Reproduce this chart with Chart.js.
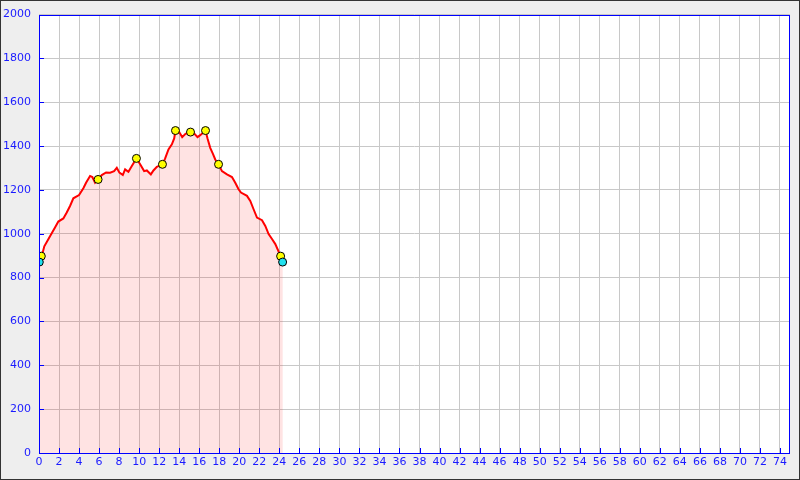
<!DOCTYPE html>
<html>
<head>
<meta charset="utf-8">
<script src="https://cdn.jsdelivr.net/npm/chart.js@4"></script>
<style>
  html, body { margin: 0; padding: 0; background: #eeeeee; }
  #wrap { width: 800px; height: 480px; }
</style>
</head>
<body>
<div id="wrap"><canvas id="profile" width="800" height="480"></canvas></div>
<script>
// distance (km) and elevation (m) along the track
const distKm = [0, 0.23, 0.37, 0.53, 0.93, 1.27, 1.6, 1.93, 2.43, 2.77, 3.1, 3.43, 4.0, 4.43, 4.7, 5.1, 5.33, 5.6, 5.9,
  6.27, 6.7, 7.1, 7.5, 7.77, 8.03, 8.37, 8.6, 8.93, 9.27, 9.73, 10.1, 10.5, 10.77, 11.17, 11.43, 11.77, 12.33,
  12.6, 12.93, 13.27, 13.5, 13.63, 14.0, 14.3, 14.63, 15.13, 15.53, 15.83, 16.1, 16.63, 16.83, 17.1, 17.37, 17.6,
  17.93, 18.27, 18.77, 19.27, 19.6, 19.93, 20.17, 20.77, 21.1, 21.43, 21.77, 22.27, 22.6, 22.93, 23.27, 23.6,
  24.13, 24.35];
const elevM = [872, 898, 915, 943, 975, 1002, 1029, 1056, 1070, 1097, 1127, 1162, 1177, 1208, 1233, 1264, 1259, 1233, 1248,
  1268, 1280, 1279, 1286, 1301, 1279, 1268, 1294, 1283, 1309, 1344, 1317, 1286, 1289, 1271, 1289, 1306, 1317,
  1344, 1385, 1408, 1435, 1471, 1464, 1441, 1456, 1464, 1456, 1441, 1450, 1471, 1435, 1392, 1365, 1339,
  1317, 1286, 1271, 1259, 1233, 1203, 1188, 1173, 1150, 1112, 1074, 1062, 1036, 999, 976, 953,
  898, 872];

// waypoints
const wayX = [0.23, 5.9, 9.73, 12.33, 13.63, 15.13, 16.63, 17.93, 24.13];
const wayY = [898, 1248, 1344, 1317, 1471, 1464, 1471, 1317, 898];

// start / finish
const endX = [0.03, 24.33];
const endY = [871, 871];

const xTicks = [];
for (let v = 0; v <= 74; v += 2) xTicks.push(v);

function toPoints(xs, ys) {
  return xs.map(function (x, i) { return { x: x, y: ys[i] }; });
}

const frame = {
  id: "frame",
  beforeDraw(chart) {
    const c = chart.ctx;
    c.save();
    c.fillStyle = "#eeeeee";
    c.fillRect(0, 0, chart.width, chart.height);
    const a = chart.chartArea;
    c.fillStyle = "#ffffff";
    c.fillRect(a.left, a.top, a.right - a.left, a.bottom - a.top);
    c.restore();
  },
  afterDraw(chart) {
    const c = chart.ctx;
    const a = chart.chartArea;
    const xs = chart.scales.x, ys = chart.scales.y;
    c.save();
    c.strokeStyle = "#0000ff";
    c.lineWidth = 1;
    c.beginPath();
    xTicks.forEach(function (v) {
      const px = Math.round(xs.getPixelForValue(v)) + 0.5;
      c.moveTo(px, a.bottom);
      c.lineTo(px, a.bottom - 5);
    });
    ys.ticks.forEach(function (t) {
      const py = Math.round(ys.getPixelForValue(t.value)) + 0.5;
      c.moveTo(a.left, py);
      c.lineTo(a.left + 5, py);
    });
    c.stroke();
    c.strokeRect(Math.round(a.left) + 0.5, Math.round(a.top) + 0.5,
      Math.round(a.right - a.left) - 1, Math.round(a.bottom - a.top));
    c.strokeStyle = "#333333";
    c.strokeRect(0.5, 0.5, chart.width - 1, chart.height - 1);
    c.restore();
  }
};

new Chart(document.getElementById("profile"), {
  type: "scatter",
  data: {
    datasets: [
      {
        data: toPoints(endX, endY),
        backgroundColor: "#22e0ee",
        borderColor: "#000000",
        borderWidth: 1,
        pointRadius: 4,
        order: 0
      },
      {
        data: toPoints(wayX, wayY),
        backgroundColor: "#ffff00",
        borderColor: "#000000",
        borderWidth: 1,
        pointRadius: 4,
        order: 1
      },
      {
        data: toPoints(distKm, elevM),
        showLine: true,
        borderColor: "#ff0000",
        borderWidth: 2,
        backgroundColor: "rgba(255, 0, 0, 0.11)",
        fill: "origin",
        pointRadius: 0,
        tension: 0,
        order: 2
      }
    ]
  },
  plugins: [frame],
  options: {
    responsive: false,
    animation: false,
    layout: { padding: { top: 13, right: 10, left: 0, bottom: 0 } },
    plugins: { legend: { display: false }, tooltip: { enabled: false } },
    scales: {
      x: {
        type: "linear",
        min: 0,
        max: 75,
        afterBuildTicks(scale) {
          scale.ticks = xTicks.map(function (v) { return { value: v }; });
        },
        afterFit(scale) { scale.height = 27; },
        grid: { color: "#c8c8c8", drawTicks: false },
        border: { display: false },
        ticks: {
          color: "#1a1aff",
          padding: 3,
          maxRotation: 0,
          autoSkip: false,
          font: { family: "DejaVu Sans", size: 11 },
          callback: function (v) { return String(v); }
        }
      },
      y: {
        min: 0,
        max: 2000,
        afterFit(scale) { scale.width = 39; },
        grid: { color: "#c8c8c8", drawTicks: false },
        border: { display: false },
        ticks: {
          stepSize: 200,
          color: "#1a1aff",
          padding: 8,
          font: { family: "DejaVu Sans", size: 11 },
          callback: function (v) { return String(v); }
        }
      }
    }
  }
});
</script>
</body>
</html>
